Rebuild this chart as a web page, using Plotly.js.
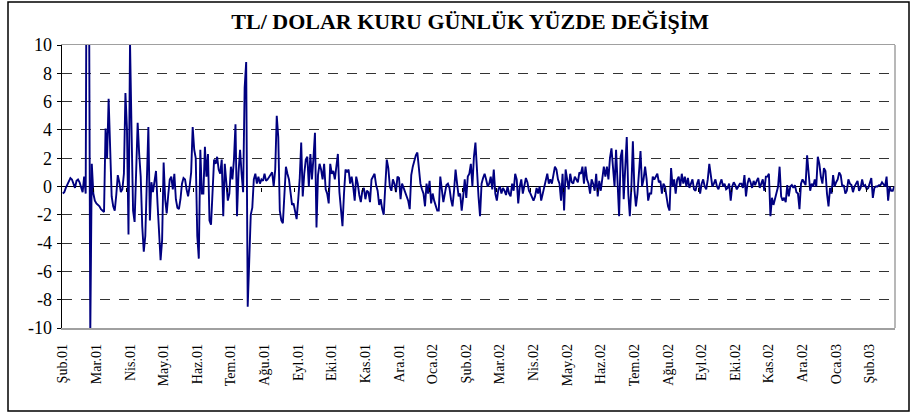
<!DOCTYPE html>
<html>
<head>
<meta charset="utf-8">
<script src="https://cdn.plot.ly/plotly-3.0.1.min.js"></script>
<style>
  html, body { margin: 0; padding: 0; background: #fff; }
  #chart { width: 910px; height: 419px; }
</style>
</head>
<body>
<div id="chart"></div>
<script>
// Tick labels (one every 22 trading days)
const monthLabels = ["Şub.01","Mar.01","Nis.01","May.01","Haz.01","Tem.01","Ağu.01","Eyl.01","Eki.01","Kas.01","Ara.01","Oca.02","Şub.02","Mar.02","Nis.02","May.02","Haz.02","Tem.02","Ağu.02","Eyl.02","Eki.02","Kas.02","Ara.02","Oca.03","Şub.03"];
const daysPerLabel = 22;

// Daily % change of TL/USD rate, grouped by label interval
const sub01 = [-0.5,-0.4,-0.1,0.1,0.3,0.6,0.5,0.2,-0.1,0.4,0.5,0.3,0.0,-0.4,0.7,-0.5,30,20,-10.5,1.6,-0.5,-1.0];
const mar01 = [-1.2,-1.3,-1.4,-1.6,-1.7,-1.8,4.1,2.0,6.2,3.0,-0.7,-1.4,-1.7,-0.6,0.8,0.3,-0.4,-0.2,0.9,6.6,4.1,-3.4];
const nis01 = [10.2,4.0,-1.7,-2.5,0.9,4.5,2.3,0.7,-2.8,-4.6,-3.5,0.6,4.2,-2.4,0.3,-0.4,0.5,1.1,-1.2,-3.2,-5.2,-3.8];
const may01 = [1.7,-0.9,-1.9,-0.6,0.5,0.7,-0.2,0.9,-0.9,-1.5,-1.6,-0.9,0.2,0.6,0.5,-0.2,-0.7,0.0,1.0,4.2,2.6,2.0];
const haz01 = [-3.5,-5.1,2.6,-0.5,-0.5,2.8,0.7,2.3,-2.4,-2.7,-0.3,1.9,1.6,2.1,1.2,0.9,1.9,-2.1,1.6,0.5,-1.0,-0.5];
const tem01 = [1.4,0.5,1.9,4.4,-2.1,1.0,2.6,0.9,-0.4,7.0,8.8,-8.5,-5.0,-2.0,-1.5,0.5,0.9,0.2,0.7,0.2,0.5,0.4];
const agu01 = [0.9,0.4,0.5,0.7,0.8,1.0,0.0,1.2,5.0,3.5,-1.7,-2.4,-2.6,-0.7,1.4,0.9,0.5,-0.4,-1.3,-1.2,-1.9,-2.3];
const eyl01 = [-1.0,0.5,3.1,-0.7,0.9,1.9,2.1,0.0,2.3,0.5,2.0,3.8,-2.9,0.8,1.6,1.2,0.5,1.6,-0.2,-0.5,-1.2,1.6];
const eki01 = [0.9,1.1,0.5,1.6,2.3,-0.4,-1.6,-2.8,-0.5,1.2,1.0,1.2,0.2,0.7,0.0,-1.0,0.7,0.2,-0.6,-1.1,-0.3,-0.1];
const kas01 = [-0.9,-0.3,-0.4,-1.1,0.5,0.7,0.9,0.1,-0.3,-1.3,-0.9,-1.6,-2.0,0.0,1.9,1.3,0.0,-0.3,0.5,0.2,-0.4,0.7];
const ara01 = [0.6,-0.9,0.2,-0.1,-0.4,-0.7,-1.0,-1.6,0.8,1.4,1.9,2.2,2.4,1.3,0.2,-0.2,-0.5,-1.4,0.2,-0.5,0.4,-1.2];
const oca02 = [-0.5,-1.0,-1.4,-1.7,-1.7,0.7,-0.2,-1.1,-0.5,0.1,0.2,-0.1,-0.9,-1.4,-0.3,1.2,0.2,-0.7,-0.5,-1.7,-0.7,0.5];
const sub02 = [-0.8,0.7,0.9,1.6,0.0,2.1,3.1,1.0,-0.7,-2.1,0.2,0.6,0.9,0.5,0.0,0.2,0.7,-0.2,1.2,-0.5,-1.0,-0.2];
const mar02 = [0.0,-0.5,-0.1,-0.3,-0.6,0.0,-0.5,-0.7,0.2,-0.3,0.9,0.5,-1.2,0.0,0.5,-0.5,0.0,0.6,0.3,-0.3,-0.5,-0.7];
const nis02 = [-1.0,-0.7,-0.1,-0.5,0.0,-1.0,-0.5,-0.1,0.5,0.9,0.2,0.5,0.2,0.9,1.4,1.2,0.5,0.2,-1.0,0.9,-1.7,1.2];
const may02 = [0.5,-0.2,0.9,0.3,0.2,0.7,0.5,0.3,1.0,0.9,1.4,0.2,1.4,0.5,0.2,-0.5,0.5,0.2,-0.3,0.9,-0.7,0.4];
const haz02 = [-0.3,0.5,1.4,0.7,1.4,0.5,2.0,2.7,1.0,0.0,2.6,-0.5,-2.1,2.1,2.6,-0.9,1.5,3.5,-0.5,-2.1,-0.1,3.2];
const tem02 = [-0.2,-1.4,-0.5,0.9,2.5,0.0,0.5,1.4,0.5,-1.0,-0.5,-0.5,0.7,0.5,0.7,0.9,0.3,0.4,-0.5,0.2,0.0,-0.7];
const agu02 = [-1.4,-1.7,1.3,0.0,0.5,-0.5,0.5,0.7,0.0,0.9,0.2,0.7,0.0,0.6,-0.1,0.2,0.5,-0.2,-0.3,0.2,0.5,-0.5];
const eyl02 = [0.2,0.5,0.0,-0.2,0.5,1.6,0.9,0.0,0.2,0.5,0.0,-0.2,0.2,0.5,0.0,0.2,-0.2,-0.1,0.2,-1.0,0.0,0.3];
const eki02 = [0.1,-0.2,0.0,0.2,0.2,-0.1,0.8,-0.7,0.2,0.6,0.3,-0.1,0.4,0.1,0.4,0.6,-0.1,0.3,0.5,-0.3,0.7,0.7];
const kas02 = [0.9,-2.1,-0.8,-1.3,-0.9,-0.5,0.0,1.4,-0.7,-1.0,-0.8,-1.1,0.1,-0.7,0.0,0.1,-0.1,0.1,-0.4,-0.5,-1.6,0.2];
const ara02 = [0.5,0.3,0.1,2.2,0.7,-0.3,0.2,0.0,0.5,0.0,2.1,1.6,0.7,0.2,1.3,1.1,-0.5,-1.4,-0.1,-0.5,0.8,0.0];
const oca03 = [0.3,0.5,1.0,0.8,0.0,0.1,-0.5,-0.3,0.5,0.2,0.1,-0.4,0.0,0.2,0.4,-0.3,-0.1,0.5,0.0,0.1,-0.2,-0.1];
const sub03 = [0.2,0.6,-0.8,-0.1,0.0,0.0,0.1,0.1,0.3,0.1,0.0,0.7,-1.0,0.0,-0.3,-0.3,0.0];

// Y axis ticks
const yTickVals = [-10,-8,-6,-4,-2,0,2,4,6,8,10];
const yTickText = ["-10","-8","-6","-4","-2","0","2","4","6","8","10"];

const dailyChange = [].concat(sub01, mar01, nis01, may01, haz01, tem01, agu01, eyl01, eki01,
  kas01, ara01, oca02, sub02, mar02, nis02, may02, haz02, tem02, agu02, eyl02, eki02,
  kas02, ara02, oca03, sub03);

const n = dailyChange.length;
const labelPos = monthLabels.map((_, k) => k * daysPerLabel);
const zeroTickPos = labelPos.map(v => v - 2.2);

const traces = [
  {
    type: 'scatter', mode: 'lines',
    y: dailyChange,
    line: { color: '#000080', width: 1.9 },
    hoverinfo: 'skip', showlegend: false
  },
  {
    type: 'scatter', mode: 'lines', x: [], y: [], xaxis: 'x2', yaxis: 'y',
    hoverinfo: 'skip', showlegend: false
  }
];

const serif = 'Liberation Serif, Times New Roman, serif';

// paper coordinates of the outer frame (plot area 62..895 x 45..328)
const fx0 = (8 - 62) / 833, fx1 = (909 - 62) / 833;
const fy0 = (328 - 411) / 283, fy1 = (328 - 2) / 283;

const layout = {
  width: 910, height: 419,
  margin: { l: 62, r: 15, t: 45, b: 91 },
  paper_bgcolor: '#ffffff', plot_bgcolor: '#ffffff',
  showlegend: false,
  title: {
    text: '<b>TL/ DOLAR KURU GÜNLÜK YÜZDE DEĞİŞİM</b>',
    font: { family: serif, size: 22, color: '#000' },
    x: 0.49, xref: 'paper', xanchor: 'center',
    y: 0.95, yref: 'container', yanchor: 'middle'
  },
  xaxis: {
    range: [-0.5, n - 0.5],
    tickvals: labelPos, ticktext: monthLabels, tickangle: -90,
    ticks: '', showgrid: false, zeroline: false,
    showline: true, linecolor: '#a0a0a0', linewidth: 1.5, mirror: true,
    tickfont: { family: serif, size: 14, color: '#000' },
    ticklabelstandoff: 9, ticklabelshift: -3.5,
    fixedrange: true
  },
  xaxis2: {
    overlaying: 'x', anchor: 'free', position: 0.5, side: 'bottom',
    range: [-0.5, n - 0.5],
    tickvals: zeroTickPos, ticks: 'outside', ticklen: 4, tickwidth: 1, tickcolor: '#000',
    showticklabels: false, showline: false, showgrid: false, zeroline: false,
    fixedrange: true
  },
  yaxis: {
    range: [-10, 10],
    tickvals: yTickVals, ticktext: yTickText,
    ticks: 'outside', ticklen: 4, tickwidth: 1, tickcolor: '#000',
    showline: true, linecolor: '#000', linewidth: 1.5,
    showgrid: true, gridcolor: '#333333', gridwidth: 1, griddash: '10px,9px',
    zeroline: true, zerolinecolor: '#000', zerolinewidth: 1,
    tickfont: { family: serif, size: 18, color: '#000' },
    ticklabelstandoff: 1,
    fixedrange: true
  },
  shapes: [
    { type: 'line', xref: 'paper', yref: 'paper', x0: 1, x1: 1, y0: 0, y1: 1,
      line: { color: '#a0a0a0', width: 1.5 } },
    { type: 'rect', xref: 'paper', yref: 'paper', x0: fx0, x1: fx1, y0: fy0, y1: fy1,
      line: { color: '#000', width: 1.5 }, fillcolor: 'rgba(0,0,0,0)', layer: 'below' }
  ]
};

Plotly.newPlot('chart', traces, layout, { staticPlot: true, displayModeBar: false });
</script>
</body>
</html>
